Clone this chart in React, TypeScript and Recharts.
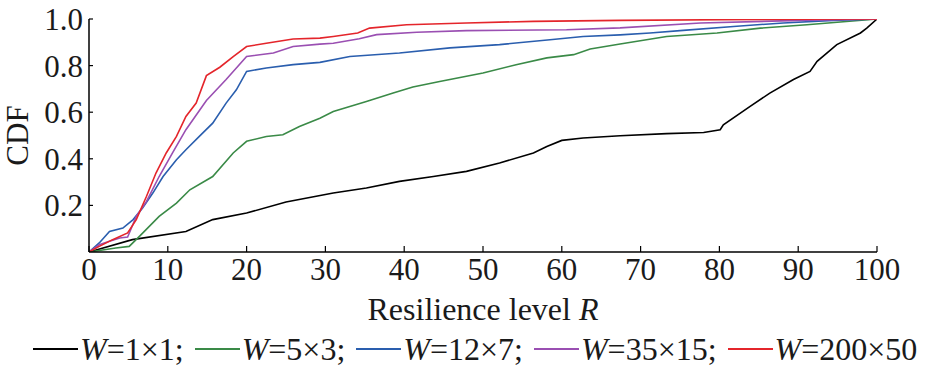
import React from 'react';
import { LineChart, Line, XAxis, YAxis } from 'recharts';

// Resilience level R (x) and CDF value (y) for each window size W
const rW1x1 = [0, 5.5, 12.3, 15.7, 20, 25, 29, 31, 35.2, 39.4, 43.7, 47.9, 52.1, 56.4, 58.1, 60, 62.7, 67.4, 73.3, 78, 80.1, 80.5, 83.9, 86.4, 89.4, 91.5, 92.4, 94.9, 97.9, 98.7, 100];
const cdfW1x1 = [0, 0.053, 0.088, 0.139, 0.167, 0.215, 0.24, 0.253, 0.275, 0.303, 0.324, 0.346, 0.382, 0.425, 0.453, 0.479, 0.489, 0.499, 0.508, 0.513, 0.525, 0.546, 0.625, 0.682, 0.74, 0.775, 0.818, 0.89, 0.94, 0.961, 1];

const rW5x3 = [0, 3.4, 5.1, 6.4, 8.9, 11.1, 12.8, 15.7, 18.3, 20, 22.5, 24.6, 26.7, 29.3, 31, 35.2, 38.6, 41.1, 44.5, 50, 54.2, 58.1, 61.5, 63.6, 67.4, 73.3, 79.7, 85.2, 91.1, 100];
const cdfW5x3 = [0, 0.017, 0.024, 0.067, 0.153, 0.21, 0.267, 0.324, 0.425, 0.475, 0.496, 0.503, 0.539, 0.574, 0.603, 0.646, 0.682, 0.708, 0.732, 0.768, 0.804, 0.833, 0.847, 0.871, 0.893, 0.925, 0.94, 0.961, 0.975, 1];

const rW12x7 = [0, 1.3, 2.6, 4.3, 5.6, 6.8, 8.1, 9.4, 11.1, 12.3, 14, 15.7, 17.4, 18.7, 20, 22.5, 25.9, 29.3, 33.1, 39.4, 45.8, 52.1, 58.5, 62.7, 67.4, 71.2, 75.4, 81.8, 88.1, 94.5, 100];
const cdfW12x7 = [0, 0.039, 0.088, 0.103, 0.139, 0.189, 0.253, 0.324, 0.396, 0.439, 0.496, 0.553, 0.639, 0.696, 0.775, 0.79, 0.804, 0.814, 0.839, 0.854, 0.876, 0.89, 0.911, 0.925, 0.932, 0.94, 0.951, 0.968, 0.983, 0.994, 1];

const rW35x15 = [0, 1.3, 2.6, 3.9, 4.9, 6, 7.3, 8.9, 10.6, 12.3, 14.9, 17.4, 20, 23.4, 25.9, 29.3, 31, 34.3, 36.5, 41.6, 47.9, 60.6, 67.4, 77.6, 90.3, 100];
const cdfW35x15 = [0, 0.031, 0.046, 0.06, 0.064, 0.153, 0.217, 0.324, 0.425, 0.525, 0.65, 0.74, 0.839, 0.854, 0.882, 0.892, 0.896, 0.915, 0.933, 0.943, 0.95, 0.954, 0.962, 0.983, 0.994, 1];

const rW200x50 = [0, 1.3, 3, 4.9, 6, 7.3, 8.5, 9.8, 11.1, 12.3, 13.6, 14.9, 16.6, 18.3, 20, 22.5, 25.9, 29.3, 31, 34.1, 35.6, 40.3, 47.9, 56.4, 67.4, 80, 96.6, 100];
const cdfW200x50 = [0, 0.024, 0.053, 0.082, 0.139, 0.239, 0.339, 0.425, 0.496, 0.582, 0.639, 0.757, 0.793, 0.839, 0.882, 0.896, 0.914, 0.918, 0.925, 0.94, 0.961, 0.975, 0.983, 0.99, 0.994, 0.997, 1, 1];

const xTicks = [0, 10, 20, 30, 40, 50, 60, 70, 80, 90, 100];
const yTicks = [0.2, 0.4, 0.6, 0.8, 1.0];

const FONT = 'Liberation Serif';

const toPoints = (r: number[], cdf: number[]) => r.map((x, i) => ({ r: x, cdf: cdf[i] }));

const SERIES = [
  { size: '1×1', color: '#000000', data: toPoints(rW1x1, cdfW1x1) },
  { size: '5×3', color: '#3a8a47', data: toPoints(rW5x3, cdfW5x3) },
  { size: '12×7', color: '#2a5eae', data: toPoints(rW12x7, cdfW12x7) },
  { size: '35×15', color: '#9a4fb2', data: toPoints(rW35x15, cdfW35x15) },
  { size: '200×50', color: '#e4252b', data: toPoints(rW200x50, cdfW200x50) },
];

const tickStyle = { fontSize: 31, fill: '#1a1a1a', fontFamily: FONT };

function XTitle(props: any) {
  const { viewBox } = props;
  return (
    <text
      x={viewBox.x + viewBox.width / 2}
      y={viewBox.y + 68}
      textAnchor="middle"
      fontSize={32}
      fontFamily={FONT}
      fill="#1a1a1a"
    >
      Resilience level <tspan fontStyle="italic">R</tspan>
    </text>
  );
}

function YTitle(props: any) {
  const { viewBox } = props;
  const cx = 17;
  const cy = viewBox.y + viewBox.height / 2;
  return (
    <text
      x={cx}
      y={cy}
      transform={`rotate(-90 ${cx} ${cy})`}
      textAnchor="middle"
      dominantBaseline="central"
      fontSize={31}
      fontFamily={FONT}
      fill="#1a1a1a"
    >
      CDF
    </text>
  );
}

function SeriesLegend() {
  return (
    <div
      style={{
        position: 'absolute',
        top: 330,
        left: 33,
        display: 'flex',
        alignItems: 'center',
        fontFamily: `"${FONT}"`,
        fontSize: 32,
        color: '#1a1a1a',
        whiteSpace: 'nowrap',
        lineHeight: '38px',
      }}
    >
      {SERIES.map((s, i) => (
        <span key={s.size} style={{ display: 'flex', alignItems: 'center', marginRight: i < SERIES.length - 1 ? 3 : 0 }}>
          <span style={{ display: 'inline-block', width: 45, height: 2, background: s.color, marginRight: 2 }} />
          <span>
            <i>W</i>={s.size}
            {i < SERIES.length - 1 ? ';\u00a0' : ''}
          </span>
        </span>
      ))}
    </div>
  );
}

export default function App() {
  return (
    <div style={{ position: 'absolute', left: 0, top: 0, width: 930, height: 370, background: '#fff' }}>
      <LineChart width={930} height={370} margin={{ top: 19, right: 53, bottom: 43, left: 0 }}>
        <XAxis
          type="number"
          dataKey="r"
          domain={[0, 100]}
          ticks={xTicks}
          allowDataOverflow
          height={75}
          tick={tickStyle}
          tickSize={-6}
          tickMargin={12}
          axisLine={{ stroke: '#000', strokeWidth: 1.5 }}
          tickLine={{ stroke: '#000', strokeWidth: 1.2 }}
          label={XTitle}
        />
        <YAxis
          type="number"
          domain={[0, 1]}
          ticks={yTicks}
          allowDataOverflow
          width={89}
          tick={tickStyle}
          tickFormatter={(v: number) => v.toFixed(1)}
          tickSize={-4}
          tickMargin={10}
          axisLine={{ stroke: '#000', strokeWidth: 1.5 }}
          tickLine={{ stroke: '#000', strokeWidth: 1.2 }}
          label={YTitle}
        />
        {SERIES.map((s) => (
          <Line
            key={s.size}
            data={s.data}
            dataKey="cdf"
            type="linear"
            stroke={s.color}
            strokeWidth={1.6}
            dot={false}
            isAnimationActive={false}
          />
        ))}
      </LineChart>
      <SeriesLegend />
    </div>
  );
}
